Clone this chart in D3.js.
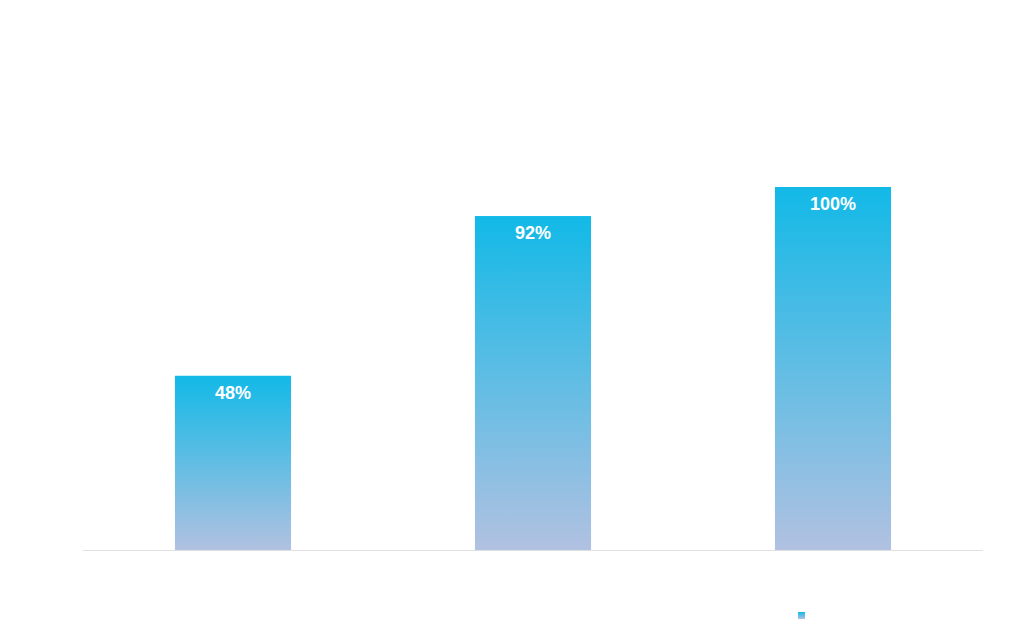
<!DOCTYPE html>
<html><head><meta charset="utf-8">
<script src="https://cdn.jsdelivr.net/npm/d3@7"></script>
<style>body{margin:0;background:#fff}</style></head>
<body><svg id="c" width="1018" height="635"></svg>
<script>
const categories = ["A", "B", "C"];
const values = [48, 92, 100];
const labels = ["48%", "92%", "100%"];

const svg = d3.select("#c");
const x = d3.scaleBand().domain(categories).range([83, 983]);
const y = d3.scaleLinear().domain([0, 100]).range([550, 187]);
const defs = svg.append("defs");
const g = defs.append("linearGradient").attr("id", "grad").attr("x1", 0).attr("y1", 0).attr("x2", 0).attr("y2", 1);
g.append("stop").attr("offset", "0%").attr("stop-color", "#12b9e7");
g.append("stop").attr("offset", "100%").attr("stop-color", "#b1c1e1");
const lg = defs.append("linearGradient").attr("id", "lg").attr("x1", 0).attr("y1", 0).attr("x2", 0).attr("y2", 1);
lg.append("stop").attr("offset", "0%").attr("stop-color", "#12b9e7");
lg.append("stop").attr("offset", "100%").attr("stop-color", "#b1c1e1");

const bw = x.bandwidth() * 0.387;
svg.append("line").attr("x1", 83).attr("x2", 983).attr("y1", 550.5).attr("y2", 550.5).attr("stroke", "#e0e0e0");
svg.selectAll("rect.bar").data(values).join("rect").attr("class", "bar")
  .attr("x", (d, i) => x(categories[i]) + (x.bandwidth() - bw) / 2)
  .attr("width", bw).attr("y", d => y(d)).attr("height", d => y(0) - y(d))
  .attr("fill", "url(#grad)");
svg.selectAll("text.lab").data(values).join("text").attr("class", "lab")
  .attr("x", (d, i) => x(categories[i]) + x.bandwidth() / 2)
  .attr("y", d => y(d) + 23).attr("text-anchor", "middle")
  .attr("fill", "#fff").attr("font-family", "Liberation Sans, Arial, sans-serif")
  .attr("font-weight", "bold").attr("font-size", 18).text((d, i) => labels[i]);
svg.append("rect").attr("x", 798).attr("y", 612).attr("width", 7).attr("height", 7).attr("fill", "url(#lg)");
</script></body></html>
